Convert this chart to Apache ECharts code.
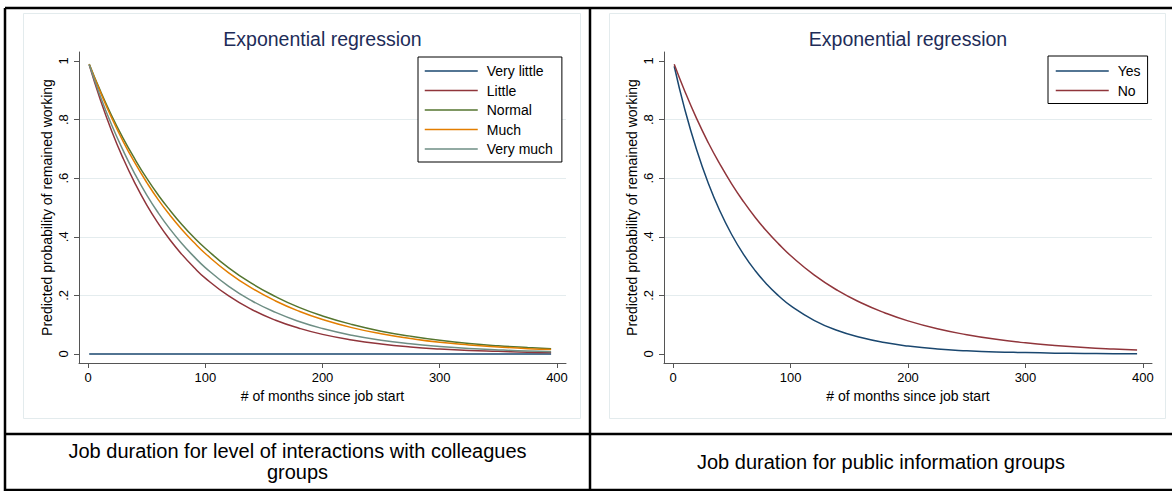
<!DOCTYPE html>
<html>
<head>
<meta charset="utf-8">
<script src="https://cdn.jsdelivr.net/npm/echarts@6/dist/echarts.min.js"></script>
<style>
  html, body { margin: 0; padding: 0; background: #fff; }
  #main { width: 1172px; height: 491px; }
</style>
</head>
<body>
<div id="main"></div>
<script>
// months since job start (x positions of the read points)
var months = [1, 10, 20, 30, 40, 50, 60, 70, 80, 90, 100, 120, 140, 160, 180, 200, 225, 250, 275, 300, 325, 350, 375, 395];

// left panel: level of interactions with colleagues
var veryLittle = [0, 0, 0, 0, 0, 0, 0, 0, 0, 0, 0, 0, 0, 0, 0, 0, 0, 0, 0, 0, 0, 0, 0, 0];
var little = [0.987, 0.874, 0.763, 0.667, 0.583, 0.509, 0.445, 0.389, 0.340, 0.297, 0.259, 0.198, 0.151, 0.115, 0.088, 0.067, 0.048, 0.034, 0.024, 0.017, 0.012, 0.009, 0.006, 0.005];
var normal = [0.990, 0.903, 0.815, 0.736, 0.665, 0.600, 0.542, 0.490, 0.442, 0.399, 0.361, 0.294, 0.240, 0.196, 0.159, 0.130, 0.101, 0.078, 0.061, 0.047, 0.036, 0.028, 0.022, 0.018];
var much = [0.989, 0.899, 0.807, 0.725, 0.652, 0.586, 0.526, 0.473, 0.425, 0.382, 0.343, 0.277, 0.224, 0.181, 0.146, 0.118, 0.090, 0.069, 0.053, 0.040, 0.031, 0.024, 0.018, 0.015];
var veryMuch = [0.988, 0.885, 0.783, 0.694, 0.614, 0.543, 0.481, 0.426, 0.377, 0.334, 0.295, 0.231, 0.181, 0.142, 0.111, 0.087, 0.064, 0.047, 0.035, 0.026, 0.019, 0.014, 0.010, 0.008];

// right panel: public information
var yes = [0.982, 0.835, 0.698, 0.583, 0.487, 0.407, 0.340, 0.284, 0.237, 0.198, 0.165, 0.115, 0.080, 0.056, 0.039, 0.027, 0.017, 0.011, 0.007, 0.005, 0.003, 0.002, 0.001, 0.001];
var no = [0.989, 0.897, 0.804, 0.721, 0.647, 0.580, 0.520, 0.466, 0.418, 0.375, 0.336, 0.270, 0.217, 0.175, 0.141, 0.113, 0.086, 0.066, 0.050, 0.038, 0.029, 0.022, 0.017, 0.014];

var xTicks = [0, 100, 200, 300, 400];
var yTicks = [0, 0.2, 0.4, 0.6, 0.8, 1];

var leftNames = ['Very little', 'Little', 'Normal', 'Much', 'Very much'];
var rightNames = ['Yes', 'No'];
var captionLeft = 'Job duration for level of interactions with colleagues\ngroups';
var captionRight = 'Job duration for public information groups';

var font = "'Liberation Sans', Arial, sans-serif";
var colors = {
    'Very little': '#1a476f', 'Little': '#90353b', 'Normal': '#55752f',
    'Much': '#e37e00', 'Very much': '#6e8e84', 'Yes': '#1a476f', 'No': '#90353b'
};

function pairs(ys) {
    return months.map(function (m, i) { return [m, ys[i]]; });
}

function yFmt(v) {
    if (v === 0) return '0';
    if (v === 1) return '1';
    return String(v).replace('0.', '.');
}

function makeX(idx) {
    return {
        gridIndex: idx, type: 'value', min: -7.7, max: 407.7,
        name: '# of months since job start', nameLocation: 'middle', nameGap: 21,
        nameTextStyle: {fontFamily: font, fontSize: 14, color: '#000'},
        axisLine: {onZero: false, lineStyle: {color: '#555', width: 1}},
        axisTick: {customValues: xTicks, length: 5, lineStyle: {color: '#555'}},
        axisLabel: {customValues: xTicks, fontFamily: font, fontSize: 13, color: '#000', margin: 8},
        splitLine: {show: false}
    };
}

function makeY(idx) {
    return {
        gridIndex: idx, type: 'value', min: -0.0307, max: 1.0307,
        name: 'Predicted probability of remained working', nameLocation: 'middle', nameGap: 25,
        nameTextStyle: {fontFamily: font, fontSize: 14, color: '#000'},
        axisLine: {onZero: false, lineStyle: {color: '#555', width: 1}},
        axisTick: {customValues: yTicks, length: 5, lineStyle: {color: '#555'}},
        axisLabel: {customValues: yTicks, rotate: 90, fontFamily: font, fontSize: 13, color: '#000',
            margin: 9, formatter: yFmt},
        splitLine: {show: true, showMinLine: false, showMaxLine: false, lineStyle: {color: '#e4ecee', width: 1}}
    };
}

function line(name, ys, idx) {
    return {
        name: name, type: 'line', xAxisIndex: idx, yAxisIndex: idx,
        data: pairs(ys), smooth: true, symbol: 'none', showSymbol: false,
        lineStyle: {color: colors[name], width: 1.5},
        itemStyle: {color: colors[name]},
        animation: false
    };
}

function legend(names, left, top, padding) {
    return {
        data: names, orient: 'vertical', left: left, top: top,
        padding: padding, itemWidth: 53, itemHeight: 14, itemGap: 5.5,
        backgroundColor: '#fff', borderColor: '#000', borderWidth: 1,
        itemStyle: {opacity: 0},
        lineStyle: {width: 1.5},
        textStyle: {fontFamily: font, fontSize: 14, color: '#000', padding: [0, 0, 0, 4]},
        selectedMode: false
    };
}

function borderLine(x1, y1, x2, y2) {
    return {type: 'line', shape: {x1: x1, y1: y1, x2: x2, y2: y2},
        style: {stroke: '#000', lineWidth: 2.5}, silent: true};
}

function txt(x, y, text, size, color) {
    return {type: 'text', x: x, y: y, silent: true,
        style: {text: text, fontFamily: font, fontSize: size, fill: color,
            align: 'center', verticalAlign: 'middle', lineHeight: 21}};
}

var chart = echarts.init(document.getElementById('main'), null, {renderer: 'svg'});
chart.setOption({
    backgroundColor: '#fff',
    animation: false,
    grid: [
        {left: 79, top: 52, width: 487, height: 311},
        {left: 664, top: 52, width: 488, height: 311}
    ],
    xAxis: [makeX(0), makeX(1)],
    yAxis: [makeY(0), makeY(1)],
    legend: [
        legend(leftNames, 418, 57, [7, 9, 6, 6]),
        legend(rightNames, 1048, 56, [8, 7, 6, 7])
    ],
    series: [
        line('Very little', veryLittle, 0),
        line('Little', little, 0),
        line('Normal', normal, 0),
        line('Much', much, 0),
        line('Very much', veryMuch, 0),
        line('Yes', yes, 1),
        line('No', no, 1)
    ],
    graphic: [
        // Stata graph region outlines
        {type: 'rect', shape: {x: 23.5, y: 13.5, width: 557, height: 405}, silent: true, z: -1,
            style: {fill: 'none', stroke: '#e3ebed', lineWidth: 1}},
        {type: 'rect', shape: {x: 609.5, y: 13.5, width: 556, height: 405}, silent: true, z: -1,
            style: {fill: 'none', stroke: '#e3ebed', lineWidth: 1}},
        txt(322.5, 39, 'Exponential regression', 19.5, '#1e2c58'),
        txt(908, 39, 'Exponential regression', 19.5, '#1e2c58'),
        // table borders
        borderLine(5, 8, 1172, 8),
        borderLine(5, 8, 5, 491),
        borderLine(590, 8, 590, 491),
        borderLine(5, 434, 1172, 434),
        borderLine(5, 490, 1172, 490),
        txt(297.5, 461, captionLeft, 20, '#000'),
        txt(881, 462, captionRight, 20, '#000')
    ]
});
</script>
</body>
</html>
